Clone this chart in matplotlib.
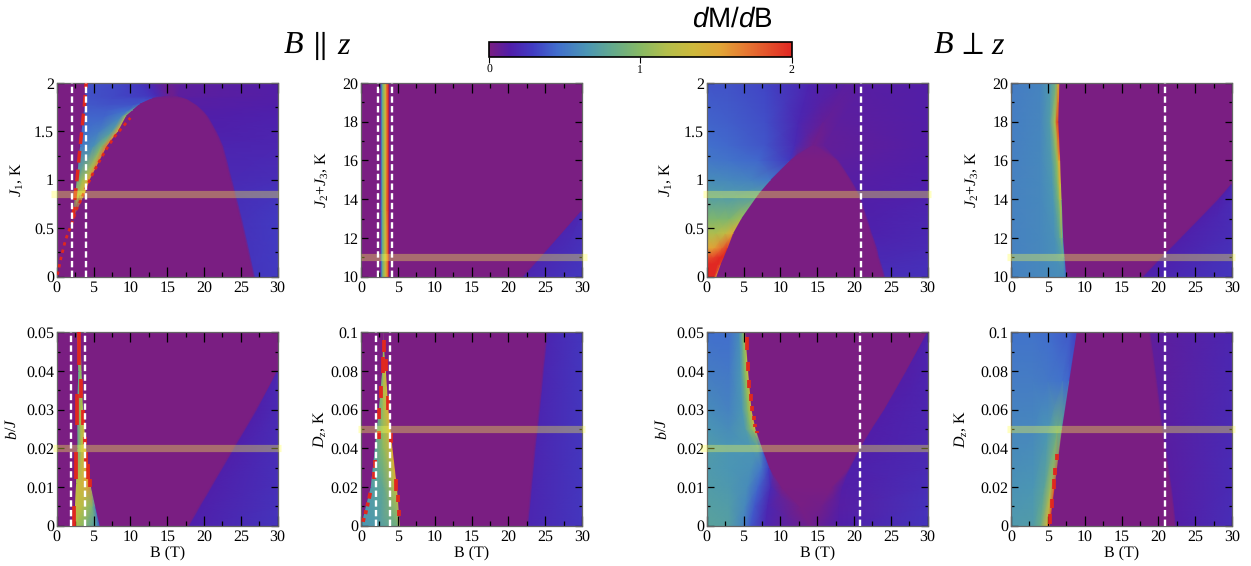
#!/usr/bin/env python3

import matplotlib
matplotlib.use('Agg')
import matplotlib.pyplot as plt
from matplotlib.cm import ScalarMappable
from matplotlib.colors import LinearSegmentedColormap, Normalize
from matplotlib.ticker import MultipleLocator
import numpy as np

plt.rcParams['font.family'] = ['Liberation Serif', 'DejaVu Serif']
plt.rcParams['mathtext.fontset'] = 'custom'
plt.rcParams['mathtext.rm'] = 'Liberation Serif'
plt.rcParams['mathtext.it'] = 'Liberation Serif:italic'
plt.rcParams['mathtext.sf'] = 'Liberation Sans'
plt.rcParams['mathtext.bf'] = 'Liberation Sans:italic'
plt.rcParams['mathtext.fallback'] = 'stix'
plt.rcParams['text.hinting'] = 'none'

W, H = 1251, 566

# colour scale
scale_pos = [0, .14, .29, .45, .65, .82, 1, 1.18, 1.35, 1.53, 1.7, 2]
scale_rgb = [(122, 30, 130), (80, 30, 170), (65, 60, 195), (65, 110, 205), (75, 150, 180),
             (100, 170, 140), (135, 185, 100), (180, 190, 75), (205, 185, 60), (225, 165, 55),
             (230, 120, 50), (225, 40, 35)]

xticks = [0, 5, 10, 15, 20, 25, 30]

# J1, field along z
p1_y = [0, .58, .85, 1.0, 1.35, 1.5, 1.66, 1.72, 1.78, 1.84, 1.87, 2]
p1_b = [[0, .06, .07, .08, .085, .09, .1, 26.7, 27, 30],
        [0, 2.1, 2.11, 2.12, 2.125, 2.13, 2.15, 25.0, 25.3, 30],
        [0, 2.55, 2.6, 3.2, 3.5, 3.8, 3.85, 24.1, 24.4, 30],
        [0, 2.75, 2.8, 3.5, 4.0, 4.5, 4.55, 23.6, 23.9, 30],
        [0, 3.2, 3.25, 5, 6.1, 6.8, 6.9, 22.4, 22.7, 30],
        [0, 3.4, 3.45, 5.7, 7.5, 8.3, 8.4, 21.5, 21.8, 30],
        [0, 3.62, 3.67, 6.5, 8.8, 9.4, 9.5, 20.3, 20.6, 30],
        [0, 3.75, 3.8, 6.8, 9.7, 10.3, 10.4, 19.6, 19.9, 30],
        [0, 3.85, 3.9, 7, 10.5, 11.2, 11.3, 18.7, 19, 30],
        [0, 3.9, 3.95, 7.5, 12, 12.9, 13, 17.4, 17.7, 30],
        [0, 3.92, 3.97, 8, 12.5, 13.6, 15.5, 15.7, 16.5, 30],
        [0, 4, 4.05, 8, 11, 12.5, 14.5, 15.5, 17, 30]]
p1_v = [[0, 0, 0, 0, 0, 0, 0, 0, .26, .28],
        [0, 0, 0, 0, 0, 0, 0, 0, .24, .28],
        [0, 0, 1.1, 1.3, 1.4, 1.5, 0, 0, .22, .25],
        [0, 0, .8, 1.1, 1.3, 1.6, 0, 0, .2, .22],
        [0, 0, .5, .62, .95, 1.7, 0, 0, .17, .18],
        [0, 0, .45, .52, .72, 1.5, 0, 0, .15, .17],
        [0, 0, .42, .42, .55, 1.1, 0, 0, .14, .16],
        [0, 0, .4, .4, .45, .8, 0, 0, .13, .15],
        [0, 0, .38, .36, .36, .42, 0, 0, .12, .14],
        [0, 0, .37, .34, .33, .32, 0, 0, .12, .13],
        [0, 0, .36, .33, .26, .2, .04, .04, .1, .13],
        [0, 0, .36, .33, .26, .2, .08, .06, .1, .13]]
p1_lo_b = [.1, .6, 1.2, 1.8, 2.2, 2.6, 3.1, 4, 5, 6, 7, 8, 9, 10]
p1_lo_y = [.02, .2, .38, .5, .58, .68, .76, .92, 1.08, 1.22, 1.35, 1.46, 1.55, 1.64]
p1_hi_b = [2.2, 2.5, 2.75, 3.17, 3.4, 3.75, 4]
p1_hi_y = [.6, .83, 1.0, 1.34, 1.5, 1.76, 2]

# J2+J3, field along z
p2_y = [10, 13.4, 20]
p2_b = [[0, 2.65, 2.75, 2.9, 3.15, 3.35, 3.55, 3.75, 3.85, 21.9, 22.2, 30],
        [0, 2.65, 2.75, 2.9, 3.15, 3.35, 3.55, 3.75, 3.85, 30, 30, 30],
        [0, 2.65, 2.75, 2.9, 3.15, 3.35, 3.55, 3.75, 3.85, 30, 30, 30]]
p2_v = [[0, 0, .4, .8, 1.1, 1.3, 1.6, 1.95, 0, 0, .18, .27],
        [0, 0, .4, .8, 1.1, 1.4, 1.8, 2, 0, 0, .18, .2],
        [0, 0, .4, .8, 1.1, 1.4, 1.8, 2, 0, 0, 0, 0]]

# J1, field across z
p3_y = [0, .13, .2, .3, .45, .6, .85, 1.0, 1.2, 1.36, 1.6, 2]
p3_b = [[0, .5, 1.0, 1.3, 1.4, 24, 24.3, 30],
        [0, .8, 1.5, 1.9, 2.0, 23.5, 23.8, 30],
        [0, .9, 1.8, 2.3, 2.4, 23.2, 23.5, 30],
        [0, 1, 2.1, 2.85, 2.95, 22.9, 23.2, 30],
        [0, 1.2, 2.5, 3.6, 3.7, 22.2, 22.5, 30],
        [0, 1.5, 3, 4.7, 4.8, 21.6, 21.9, 30],
        [0, 2, 4, 7.0, 7.1, 20.5, 20.8, 30],
        [0, 3, 6, 8.7, 8.8, 19.4, 19.7, 30],
        [0, 3, 7, 11.3, 11.4, 17.6, 18, 30],
        [0, 3, 8, 12, 14.5, 14.6, 16, 30],
        [0, 3, 8, 12.5, 15.8, 16, 18, 30],
        [0, 3, 8, 14, 19, 20, 22, 30]]
p3_v = [[2, 2, 2, 1.5, 0, 0, .22, .24],
        [2, 2, 2, 1.9, 0, 0, .2, .23],
        [1.85, 1.9, 2, 2, 0, 0, .19, .22],
        [1.5, 1.55, 1.75, 1.95, 0, 0, .18, .2],
        [1.15, 1.15, 1.25, 1.5, 0, 0, .16, .19],
        [.95, .95, .95, 1.1, 0, 0, .15, .18],
        [.7, .68, .68, .72, 0, 0, .13, .16],
        [.6, .58, .55, .5, 0, 0, .12, .15],
        [.5, .48, .43, .26, 0, 0, .1, .14],
        [.46, .43, .37, .2, .03, .03, .08, .13],
        [.42, .4, .35, .18, .08, .07, .1, .13],
        [.37, .36, .32, .17, .11, .11, .12, .13]]

# J2+J3, field across z
p4_y = [10, 11, 12, 14, 14.8, 16, 18, 20]
p4_b = [[0, 4, 6.35, 7.05, 7.35, 7.55, 7.6, 17.8, 18.1, 30],
        [0, 4, 6.1, 6.8, 7.1, 7.3, 7.35, 20.3, 20.6, 30],
        [0, 4, 5.9, 6.6, 6.9, 7.1, 7.15, 22.9, 23.2, 30],
        [0, 4, 5.7, 6.4, 6.7, 6.9, 6.95, 28, 28.3, 30],
        [0, 4, 5.6, 6.3, 6.6, 6.8, 6.85, 30, 30, 30],
        [0, 4, 5.5, 6.2, 6.5, 6.7, 6.75, 30, 30, 30],
        [0, 4, 5.25, 5.95, 6.25, 6.45, 6.5, 30, 30, 30],
        [0, 4, 5.4, 6.1, 6.4, 6.6, 6.65, 30, 30, 30]]
p4_v = [[.55, .58, .6, .58, .5, .38, 0, 0, .16, .26],
        [.55, .58, .62, .68, .7, .45, 0, 0, .15, .24],
        [.55, .58, .62, .75, .95, .6, 0, 0, .15, .22],
        [.55, .58, .65, .9, 1.3, 1.0, 0, 0, .15, .2],
        [.55, .58, .66, .95, 1.4, 1.3, 0, 0, .15, .2],
        [.54, .58, .68, 1.0, 1.45, 1.6, 0, 0, 0, 0],
        [.53, .57, .7, 1.15, 1.9, 2, 0, 0, 0, 0],
        [.52, .56, .68, .9, 1.35, 1.5, 0, 0, 0, 0]]

# b/J, field along z
p5_y = [0, .005, .011, .02, .03, .04, .05]
p5_b = [[0, 2.45, 2.5, 3.6, 5.4, 5.85, 5.9, 17.8, 18.1, 30],
        [0, 2.5, 2.55, 3.5, 4.8, 5.25, 5.3, 19.3, 19.6, 30],
        [0, 2.65, 2.7, 3.5, 4.4, 4.55, 4.6, 21.15, 21.45, 30],
        [0, 2.85, 2.9, 3.4, 3.9, 4, 4.05, 23.9, 24.2, 30],
        [0, 2.8, 2.85, 3.2, 3.5, 3.6, 3.65, 27, 27.3, 30],
        [0, 2.95, 3.0, 3.2, 3.35, 3.4, 3.45, 30, 30, 30],
        [0, 2.8, 2.85, 3.0, 3.1, 3.2, 3.25, 30, 30, 30]]
p5_v = [[0, 0, 1.15, 1.0, .65, .35, 0, 0, .15, .25],
        [0, 0, 1.3, 1.2, .95, .55, 0, 0, .15, .24],
        [0, 0, 1.2, 1.4, 1.6, 1.4, 0, 0, .15, .23],
        [0, 0, .85, 1.2, 1.5, 1.3, 0, 0, .15, .22],
        [0, 0, .75, 1.1, 1.3, 1.1, 0, 0, .15, .2],
        [0, 0, .8, 1, 1, .9, 0, 0, .18, .2],
        [0, 0, 1, 1.3, 1.5, 1.5, 0, 0, 0, 0]]
p5_red = [(2.35, 0, 2.35, .005), (2.6, .012, 2.6, .019), (2.8, .026, 2.8, .034),
          (3.03, .0415, 3.03, .05), (3.35, .033, 3.35, .038), (3.6, .026, 3.6, .03),
          (3.85, .021, 3.85, .023), (4, .016, 4, .019), (4.3, .012, 4.3, .016),
          (4.55, .01, 4.55, .012)]

# Dz, field along z
p6_y = [0, .02, .04, .06, .08, .095, .1]
p6_b = [[0, .05, .1, 2.5, 5.0, 5.3, 5.35, 22.5, 22.8, 30],
        [0, 1.35, 1.4, 3, 4.5, 4.9, 4.95, 23.0, 23.3, 30],
        [0, 1.9, 1.95, 3, 4.1, 4.3, 4.35, 23.5, 23.8, 30],
        [0, 2.45, 2.5, 3.1, 3.6, 3.75, 3.8, 24.1, 24.4, 30],
        [0, 2.9, 2.95, 3.1, 3.3, 3.4, 3.45, 24.6, 24.9, 30],
        [0, 3.06, 3.08, 3.09, 3.1, 3.11, 3.13, 25.0, 25.3, 30],
        [0, 3.1, 3.1, 3.1, 3.1, 3.1, 3.1, 25.1, 25.4, 30]]
p6_v = [[0, 0, .65, .7, .9, 1.1, 0, 0, .18, .26],
        [0, 0, .7, .8, 1.2, 1.5, 0, 0, .18, .26],
        [0, 0, .75, 1, 1.4, 1.6, 0, 0, .18, .26],
        [0, 0, .85, 1.15, 1.4, 1.5, 0, 0, .18, .26],
        [0, 0, 1, 1.2, 1.3, 1.3, 0, 0, .18, .26],
        [0, 0, 1, 1, 1, 1, 0, 0, .18, .26],
        [0, 0, 0, 0, 0, 0, 0, 0, .18, .26]]
p6_red = [(.27, .002, .4, .004), (.6, .006, .7, .008), (.85, .01, .95, .012), (1.1, .014, 1.25, .017),
          (1.7, .024, 1.7, .028), (1.95, .03, 1.95, .034), (2.4, .045, 2.4, .049),
          (2.5, .055, 2.5, .061), (2.76, .066, 2.76, .072), (2.94, .079, 2.94, .087),
          (3.08, .09, 3.08, .096), (3.4, .08, 3.4, .086), (3.7, .06, 3.7, .067),
          (4.07, .043, 4.07, .048), (4.75, .018, 4.75, .024), (5, .012, 5, .016),
          (5.2, .005, 5.2, .008)]

# b/J, field across z
p7_y = [0, .005, .01, .015, .02, .025, .03, .04, .05]
p7_b = [[0, 3, 5, 6, 8, 14, 15, 18, 30],
        [0, 3, 5.2, 6.5, 8.3, 12.7, 15.5, 18, 30],
        [0, 3, 5.5, 7, 8.7, 10.2, 17, 18.5, 30],
        [0, 3, 6, 7.4, 8.4, 8.6, 19.3, 19.6, 30],
        [0, 3, 6, 7, 7.5, 7.6, 20.7, 20.9, 30],
        [0, 3, 5.2, 6, 6.6, 6.7, 22.3, 22.5, 30],
        [0, 3, 4.8, 5.6, 6.05, 6.15, 24, 24.2, 30],
        [0, 3, 4.6, 5.2, 5.6, 5.7, 27, 27.2, 30],
        [0, 3, 4.4, 4.9, 5.2, 5.3, 30, 30, 30]]
p7_v = [[.75, .72, .55, .38, .18, .03, .06, .14, .25],
        [.73, .7, .58, .38, .18, .01, .03, .12, .24],
        [.7, .67, .6, .42, .2, 0, 0, .13, .22],
        [.68, .65, .62, .5, .3, 0, 0, .15, .2],
        [.7, .65, .65, .7, .45, 0, 0, .14, .19],
        [.65, .6, .68, 1, 1.3, 0, 0, .14, .18],
        [.6, .55, .65, 1, 1.4, 0, 0, .14, .18],
        [.52, .5, .65, 1, 1.3, 0, 0, .13, .17],
        [.46, .45, .6, .9, 1.2, 0, 0, .15, .18]]
p7_red = [(5.43, .0453, 5.43, .0489), (5.6, .04, 5.6, .0424), (5.8, .0357, 5.8, .0377),
          (6.0, .0322, 6.0, .034), (6.2, .0297, 6.2, .031), (6.4, .0273, 6.4, .0284),
          (6.6, .0254, 6.6, .0263), (6.8, .0239, 6.8, .0246)]

# Dz, field across z
p8_y = [0, .02, .05, .075, .1]
p8_b = [[0, 3, 4, 4.9, 5.25, 5.35, 22.2, 22.5, 30],
        [0, 3, 4.5, 5.4, 5.9, 6, 21.6, 21.9, 30],
        [0, 3, 5, 6.3, 6.9, 7, 20.4, 20.7, 30],
        [0, 3, 5, 7, 7.9, 8, 19.6, 19.9, 30],
        [0, 3, 5, 8, 8.9, 9, 18.7, 19, 30]]
p8_v = [[.68, .7, .85, 1.4, 1.9, 0, 0, .13, .22],
        [.63, .65, .75, 1.1, 1.8, 0, 0, .12, .21],
        [.57, .58, .65, .85, .8, 0, 0, .11, .2],
        [.52, .52, .5, .47, .42, 0, 0, .1, .19],
        [.48, .48, .45, .38, .3, 0, 0, .09, .18]]
p8_red = [(5.3, .001, 5.3, .006), (5.5, .009, 5.5, .014), (5.85, .019, 5.85, .024),
          (6, .026, 6, .03), (6.3, .034, 6.3, .037)]

cmap = LinearSegmentedColormap.from_list(
    'dmdb', [(p / 2, tuple(c / 255 for c in rgb)) for p, rgb in zip(scale_pos, scale_rgb)], N=512)
norm = Normalize(0, 2)

panels = [
    dict(box=(56.7, 83, 277.7, 276.7), y=p1_y, b=p1_b, v=p1_v, ylim=(0, 2), major=.5, yticks=[0, .5, 1, 1.5, 2],
         yfmt=['0', '0.5', '1', '1.5', '2'], label=r'$J_1$, K', label_x=25, band=.85, band_x=(-.8, 30),
         white=[2.1, 4.0], red=[]),
    dict(box=(361, 83, 582, 276.7), y=p2_y, b=p2_b, v=p2_v, ylim=(10, 20), major=2, yticks=[10, 12, 14, 16, 18, 20],
         yfmt=['10', '12', '14', '16', '18', '20'], label=r'$J_2$+$J_3$, K', label_x=330, band=11, band_x=(0, 30.7),
         white=[2.3, 4.2], red=[]),
    dict(box=(706.7, 83, 927.7, 276.7), y=p3_y, b=p3_b, v=p3_v, ylim=(0, 2), major=.5, yticks=[0, .5, 1, 1.5, 2],
         yfmt=['0', '0.5', '1', '1.5', '2'], label=r'$J_1$, K', label_x=674, band=.85, band_x=(-.5, 30.4),
         white=[20.9], red=[]),
    dict(box=(1011, 83, 1232, 276.7), y=p4_y, b=p4_b, v=p4_v, ylim=(10, 20), major=2, yticks=[10, 12, 14, 16, 18, 20],
         yfmt=['10', '12', '14', '16', '18', '20'], label=r'$J_2$+$J_3$, K', label_x=980, band=11,
         band_x=(-.5, 30.4), white=[20.9], red=[]),
    dict(box=(56.7, 332.3, 277.7, 525.7), y=p5_y, b=p5_b, v=p5_v, ylim=(0, .05), major=.01,
         yticks=[0, .01, .02, .03, .04, .05], yfmt=['0', '0.01', '0.02', '0.03', '0.04', '0.05'], label=r'$b/J$',
         label_x=20, band=.02, band_x=(-.5, 30.4), white=[2.0, 3.9], red=p5_red),
    dict(box=(361, 332.3, 582, 525.7), y=p6_y, b=p6_b, v=p6_v, ylim=(0, .1), major=.02,
         yticks=[0, .02, .04, .06, .08, .1], yfmt=['0', '0.02', '0.04', '0.06', '0.08', '0.1'], label=r'$D_z$, K',
         label_x=328, band=.05, band_x=(-.4, 30.4), white=[2.1, 4.0], red=p6_red),
    dict(box=(706.7, 332.3, 927.7, 525.7), y=p7_y, b=p7_b, v=p7_v, ylim=(0, .05), major=.01,
         yticks=[0, .01, .02, .03, .04, .05], yfmt=['0', '0.01', '0.02', '0.03', '0.04', '0.05'], label=r'$b/J$',
         label_x=670, band=.02, band_x=(-.9, 30), white=[20.8], red=p7_red),
    dict(box=(1011, 332.3, 1232, 525.7), y=p8_y, b=p8_b, v=p8_v, ylim=(0, .1), major=.02,
         yticks=[0, .02, .04, .06, .08, .1], yfmt=['0', '0.02', '0.04', '0.06', '0.08', '0.1'], label=r'$D_z$, K',
         label_x=969, band=.05, band_x=(-.5, 30.4), white=[20.9], red=p8_red),
]


def px_axes(fig, left, top, right, bottom):
    return fig.add_axes([left / W, 1 - bottom / H, (right - left) / W, (bottom - top) / H])


def draw_panel(fig, p, bottom_row):
    ax = px_axes(fig, *p['box'])
    ys = np.array(p['y'], dtype=float)
    xs = np.array(p['b'], dtype=float)
    vals = np.array(p['v'], dtype=float)
    yy = np.tile(ys, (xs.shape[1], 1)).T
    ax.pcolormesh(xs, yy, vals, shading='gouraud', cmap=cmap, norm=norm)
    ax.set_xlim(0, 30)
    ax.set_ylim(*p['ylim'])

    for x0, y0, x1, y1 in p['red']:
        ax.plot([x0, x1], [y0, y1], color='#e0281e', lw=2.7, solid_capstyle='butt', zorder=3)

    ax.plot(p['band_x'], [p['band'], p['band']], color=(1, 1, .3), alpha=.35, lw=5.2,
            solid_capstyle='butt', clip_on=False, zorder=4)
    for x in p['white']:
        ax.axvline(x, color='white', lw=1.7, linestyle=(0, (2.7, 1.4)), zorder=5)

    ax.set_xticks(xticks)
    ax.xaxis.set_minor_locator(MultipleLocator(2.5))
    ax.set_yticks(p['yticks'])
    ax.set_yticklabels(p['yfmt'])
    ax.yaxis.set_minor_locator(MultipleLocator(p['major'] / 2))
    ax.tick_params(axis='x', which='major', direction='in', top=True, length=7.2, width=.9, labelsize=11.5, pad=3)
    ax.tick_params(axis='x', which='minor', direction='in', top=True, length=3.6, width=.9)
    ax.tick_params(axis='y', which='major', direction='in', right=True, length=4.8, width=.9, labelsize=11.5, pad=2)
    ax.tick_params(axis='y', which='minor', direction='in', right=True, length=2.4, width=.9)
    for side in ax.spines.values():
        side.set_color('#666666')
        side.set_linewidth(.9)
    left, _, right, _ = p['box']
    ax.set_ylabel(p['label'], fontsize=11.5)
    ax.yaxis.set_label_coords((p['label_x'] - left) / (right - left), .5)
    if bottom_row:
        ax.set_xlabel('B (T)', fontsize=11.5, labelpad=1)
    return ax


fig = plt.figure(figsize=(W / 100, H / 100), dpi=100)

axes = [draw_panel(fig, p, i >= 4) for i, p in enumerate(panels)]

# the J1 panel has its sharp peaks as two long broken curves
axes[0].plot(p1_lo_b, p1_lo_y, color='#e0281e', lw=2, linestyle=(0, (1.2, 1.5)), zorder=3)
axes[0].plot(p1_hi_b, p1_hi_y, color='#e0281e', lw=2.5, linestyle=(0, (3.4, 2)), zorder=3)

cax = px_axes(fig, 489, 41.7, 791.5, 56.7)
bar = fig.colorbar(ScalarMappable(norm=norm, cmap=cmap), cax=cax, orientation='horizontal', ticks=[0, 1, 2])
bar.ax.tick_params(length=4.5, width=.8, labelsize=8.5, pad=1)
bar.outline.set_linewidth(1.2)

fig.text(692 / W, 1 - 27 / H, r'$\mathbf{d}\mathsf{M/}\mathbf{d}\mathsf{B}$', fontsize=20, ha='left', va='baseline')
fig.text(283 / W, 1 - 54 / H, r'$B$', fontsize=23, ha='left', va='baseline')
fig.text(307 / W, 1 - 54 / H, r'$\parallel$', fontsize=23, ha='left', va='baseline')
fig.text(337 / W, 1 - 54 / H, r'$z$', fontsize=23, ha='left', va='baseline')
fig.text(933 / W, 1 - 54 / H, r'$B$', fontsize=23, ha='left', va='baseline')
fig.text(957 / W, 1 - 54 / H, r'$\perp$', fontsize=23, ha='left', va='baseline')
fig.text(991 / W, 1 - 54 / H, r'$z$', fontsize=23, ha='left', va='baseline')

plt.savefig('out.png', dpi=100)
